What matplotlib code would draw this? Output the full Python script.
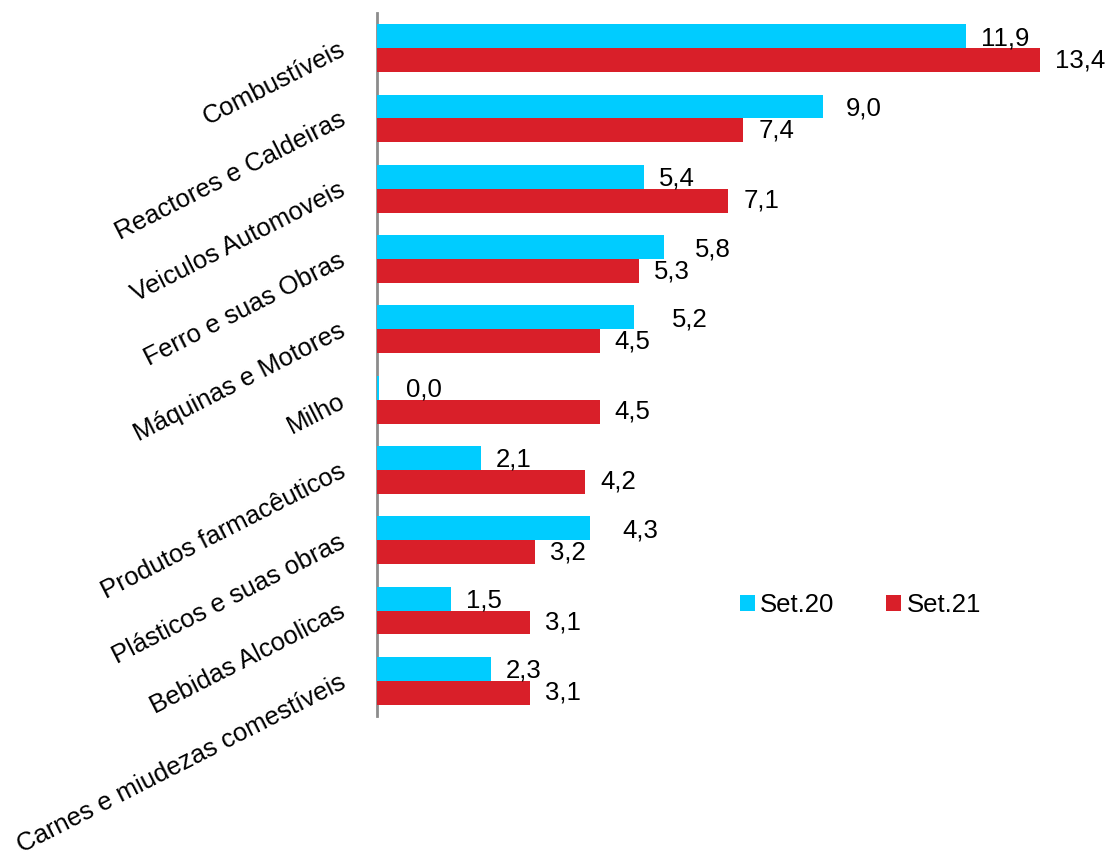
import numpy as np
import matplotlib.pyplot as plt

plt.rcParams['font.family'] = ['Liberation Sans', 'DejaVu Sans']

# ---------------- DATA ----------------
categories = [
    "Combustíveis",
    "Reactores e Caldeiras",
    "Veiculos Automoveis",
    "Ferro e suas Obras",
    "Máquinas e Motores",
    "Milho",
    "Produtos farmacêuticos",
    "Plásticos e suas obras",
    "Bebidas Alcoolicas",
    "Carnes e miudezas comestíveis",
]
set20 = [11.9, 9.0, 5.4, 5.8, 5.2, 0.04, 2.1, 4.3, 1.5, 2.3]
set20_labels = ["11,9", "9,0", "5,4", "5,8", "5,2", "0,0", "2,1", "4,3", "1,5", "2,3"]
set21 = [13.4, 7.4, 7.1, 5.3, 4.5, 4.5, 4.2, 3.2, 3.1, 3.1]
set21_labels = ["13,4", "7,4", "7,1", "5,3", "4,5", "4,5", "4,2", "3,2", "3,1", "3,1"]

CYAN = "#00CCFF"
RED = "#D91F29"
FS = 18.5

# ---------------- PLOT ----------------
fig = plt.figure(figsize=(11.1, 8.64), dpi=100)
ax = fig.add_axes([377 / 1110, 1 - 716 / 864, 1 - 377 / 1110 - 0.01, (716 - 13) / 864])

y = np.arange(len(categories))
h = 0.34
ax.barh(y - h / 2, set20, height=h, color=CYAN, label="Set.20")
ax.barh(y + h / 2, set21, height=h, color=RED, label="Set.21")

# value labels (some Excel labels sit further out)
extra20 = [0, 8, 0, 16, 23, 12, 0, 18, 0, 0]
for i, (v, t) in enumerate(zip(set20, set20_labels)):
    ax.annotate(t, (v, i - h / 2), xytext=(15 + extra20[i], -2), textcoords="offset pixels",
                va="center", ha="left", fontsize=FS)
for i, (v, t) in enumerate(zip(set21, set21_labels)):
    ax.annotate(t, (v, i + h / 2), xytext=(15, 0), textcoords="offset pixels",
                va="center", ha="left", fontsize=FS)

ax.set_ylim(len(categories) - 0.5, -0.5)
ax.set_xlim(0, (1110 * (1 - 0.01) - 377) / 49.5)
ax.set_yticks(y)
ax.set_yticklabels(categories, rotation=27, ha="right", va="center",
                   rotation_mode="anchor", fontsize=FS)
ax.tick_params(axis="y", length=0, pad=24)
ax.set_xticks([])

for s in ["top", "right", "bottom"]:
    ax.spines[s].set_visible(False)
ax.spines["left"].set_color("#8c8c8c")
ax.spines["left"].set_linewidth(2)
ax.spines["left"].set_zorder(0.5)

ax.legend(loc="center", bbox_to_anchor=(0.775, 0.30), bbox_transform=fig.transFigure,
          ncol=2, frameon=False, fontsize=FS, handlelength=0.6, handleheight=0.6,
          handletextpad=0.2, columnspacing=2.0)

fig.savefig("out.png", dpi=100)
